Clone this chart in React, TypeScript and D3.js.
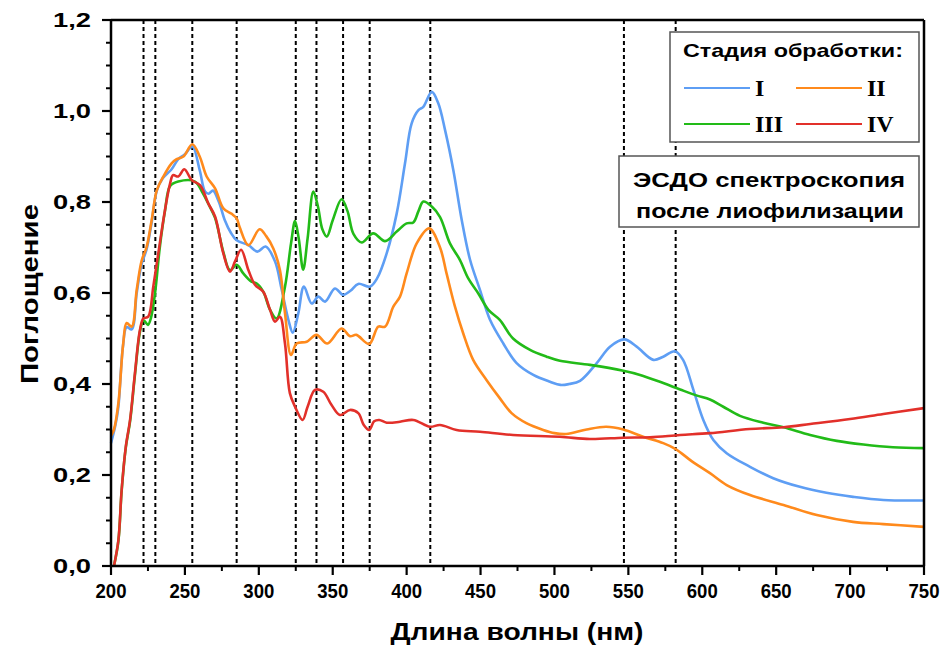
import React from "react";
import * as d3 from "d3";

const seriesNames = ["I", "II", "III", "IV"];
const seriesColors = ["#5E9EF4", "#FF8A1C", "#22BB18", "#E2302A"];

const wlI = [200,203,205,208,210.6,214,217.4,220.8,224,227.5,231,235,241,245.5,250,255,260,263.6,266,269,273,277,281,285,293,299,304.6,311,315.5,320,323,326.7,330.5,335.8,340.3,344.8,351.5,357,362,367.3,375.2,380,386.5,393.3,398.9,403.4,408,411.3,417,421.4,426,431.6,437.3,442.9,449.6,456.4,465.4,474.4,485.7,497,504,510,517.3,528.6,537.6,547.3,555.6,566.9,573.6,581.5,587,594,600.7,607.5,616.5,632.3,648,666,684,702,722.5,750];
const absI = [0.27,0.31,0.35,0.48,0.525,0.52,0.6,0.665,0.695,0.755,0.825,0.852,0.872,0.894,0.905,0.922,0.87,0.823,0.818,0.825,0.8,0.76,0.733,0.716,0.705,0.691,0.702,0.669,0.607,0.541,0.513,0.555,0.614,0.577,0.592,0.581,0.61,0.596,0.605,0.62,0.614,0.632,0.687,0.775,0.885,0.973,1.002,1.009,1.042,1.017,0.958,0.87,0.76,0.673,0.607,0.541,0.489,0.446,0.42,0.405,0.398,0.4,0.407,0.446,0.482,0.498,0.482,0.453,0.46,0.472,0.453,0.387,0.321,0.277,0.248,0.218,0.193,0.174,0.161,0.152,0.145,0.144];

const wlII = [200,202,205,208.3,210.6,214,217.4,220.8,224,227.5,231,235.4,241,244.4,249,255,260,264.7,270.4,276,281.6,285,287,293,300.5,305,309.8,314.3,317.7,321.8,325.6,332.4,339,346.3,356,361.7,366,374.7,380.8,385.4,391,395.5,400,406.8,415.3,422.6,427,432.7,438.3,445,454,463,471,481,492.4,500,508,521.8,535,546.6,560,573.6,582,593,605.2,616.5,632.3,655,677.5,702,722.5,750];
const absII = [0.286,0.3,0.358,0.49,0.534,0.526,0.607,0.672,0.7,0.76,0.826,0.856,0.885,0.894,0.9,0.927,0.9,0.856,0.83,0.786,0.774,0.764,0.745,0.705,0.74,0.725,0.698,0.65,0.556,0.464,0.489,0.493,0.508,0.489,0.522,0.505,0.508,0.488,0.526,0.526,0.57,0.592,0.643,0.709,0.742,0.7,0.643,0.57,0.511,0.453,0.409,0.369,0.336,0.314,0.299,0.292,0.29,0.3,0.306,0.3,0.284,0.27,0.257,0.23,0.204,0.178,0.156,0.134,0.112,0.097,0.092,0.086];

const wlIII = [202,205,207.2,210,212.9,216.2,219.6,222,225,227,229.8,233,236.5,240,245.5,256.8,262,266,270.4,276,280.5,285,289.5,295,298.6,303,307.6,312,317.7,321.8,324.5,327,330,333,336.9,340,343,346,350,356,360,364,369.6,377.4,385.4,393.3,400,404.5,408,411.3,417,422.6,429.3,436,441.7,448.5,455.3,463,472,483.5,494.7,503.7,524,546.6,557.9,573.6,585,596,605.2,614.2,625.5,641.3,655,673,691,709,729,750];
const absIII = [0,0.055,0.165,0.26,0.318,0.42,0.515,0.54,0.53,0.545,0.6,0.7,0.78,0.835,0.845,0.845,0.82,0.795,0.765,0.69,0.65,0.662,0.643,0.625,0.621,0.603,0.563,0.544,0.614,0.709,0.758,0.72,0.651,0.72,0.823,0.79,0.74,0.724,0.76,0.806,0.78,0.73,0.711,0.731,0.714,0.735,0.753,0.755,0.78,0.801,0.79,0.767,0.709,0.673,0.632,0.599,0.563,0.541,0.5,0.475,0.46,0.451,0.442,0.429,0.42,0.402,0.388,0.375,0.366,0.35,0.33,0.315,0.305,0.288,0.275,0.267,0.261,0.259];

const wlIV = [202,205,207.2,210,212.9,216.2,219.6,221.9,225.2,228.6,232,236.5,240,242,245.5,249.6,254.6,260.2,265.8,270.4,276,280.5,284,288,293,297.4,303,307.6,311,314.3,317.7,321,324.5,329.6,333,338,343.6,349,354.9,361.7,367.3,371,374.7,378,381.5,386.5,395.5,404.5,415.8,422.6,433.8,449.6,472,503.7,524,546.6,564.6,585,605,632,655,673,700,722.5,750];
const absIV = [0,0.057,0.167,0.262,0.321,0.424,0.519,0.544,0.548,0.614,0.687,0.782,0.841,0.859,0.856,0.872,0.848,0.837,0.797,0.768,0.687,0.647,0.67,0.695,0.65,0.618,0.603,0.563,0.537,0.548,0.489,0.38,0.35,0.321,0.35,0.387,0.383,0.355,0.332,0.343,0.336,0.31,0.299,0.318,0.321,0.315,0.317,0.321,0.306,0.31,0.299,0.295,0.288,0.284,0.279,0.282,0.283,0.288,0.292,0.301,0.305,0.312,0.323,0.334,0.347];

const markerWavelengths = [222, 230, 255, 285, 325, 339, 357, 375, 416, 547, 582];
const xTicks = [200,250,300,350,400,450,500,550,600,650,700,750];
const xMinorTicks = [225,275,325,375,425,475,525,575,625,675,725];
const yTicks = [0,0.2,0.4,0.6,0.8,1.0,1.2];
const yMinorTicks = [0.05,0.1,0.15,0.25,0.3,0.35,0.45,0.5,0.55,0.65,0.7,0.75,0.85,0.9,0.95,1.05,1.1,1.15];

const allWl = [wlI, wlII, wlIII, wlIV];
const allAbs = [absI, absII, absIII, absIV];

export default function App() {
  const W = 947, H = 648;
  const x = d3.scaleLinear().domain([200, 750]).range([111, 924]);
  const y = d3.scaleLinear().domain([0, 1.2]).range([566, 20]);
  const line = d3.line<[number, number]>()
    .x(d => x(d[0]))
    .y(d => y(d[1]))
    .curve(d3.curveCatmullRom.alpha(0.5));
  const fmt = (v: number) => v.toFixed(1).replace(".", ",");
  const drawOrder = [0, 2, 1, 3];
  const sans = "'Liberation Sans', Arial, sans-serif";
  const serif = "'Liberation Serif', 'Times New Roman', serif";
  return (
    <svg width={W} height={H} style={{ position: "absolute", left: 0, top: 0, background: "#fff" }}>
      <rect x={0} y={0} width={W} height={H} fill="#fff" />
      {markerWavelengths.map((m, i) => (
        <line key={"m" + i} x1={x(m)} x2={x(m)} y1={y(1.2)} y2={y(0)} stroke="#000" strokeWidth={2} strokeDasharray="4,3" />
      ))}
      {drawOrder.map(si => {
        const pts = allWl[si].map((w, j) => [w, allAbs[si][j]] as [number, number]);
        return <path key={"s" + si} d={line(pts) || ""} fill="none" stroke={seriesColors[si]} strokeWidth={2.6} strokeLinejoin="round" />;
      })}
      {/* frame */}
      <line x1={x(200)} x2={x(750)} y1={y(1.2)} y2={y(1.2)} stroke="#000" strokeWidth={2.5} />
      <line x1={x(750)} x2={x(750)} y1={y(1.2)} y2={y(0)} stroke="#000" strokeWidth={2.5} />
      <line x1={x(200)} x2={x(750)} y1={y(0)} y2={y(0)} stroke="#000" strokeWidth={2.5} />
      <line x1={x(200)} x2={x(200)} y1={y(1.2)} y2={y(0)} stroke="#000" strokeWidth={2.5} />
      {xTicks.map(t => (
        <g key={"xt" + t}>
          <line x1={x(t)} x2={x(t)} y1={y(0)} y2={y(0) + 9} stroke="#000" strokeWidth={2.2} />
          <text x={x(t)} y={598} textAnchor="middle" fontFamily={sans} fontWeight="bold" fontSize={20} textLength={31} lengthAdjust="spacingAndGlyphs">{t}</text>
        </g>
      ))}
      {xMinorTicks.map(t => (
        <line key={"xm" + t} x1={x(t)} x2={x(t)} y1={y(0)} y2={y(0) + 5} stroke="#000" strokeWidth={2} />
      ))}
      {yTicks.map(t => (
        <g key={"yt" + t}>
          <line x1={x(200) - 9} x2={x(200)} y1={y(t)} y2={y(t)} stroke="#000" strokeWidth={2.2} />
          <text x={91} y={y(t) + 7} textAnchor="end" fontFamily={sans} fontWeight="bold" fontSize={20} textLength={38} lengthAdjust="spacingAndGlyphs">{fmt(t)}</text>
        </g>
      ))}
      {yMinorTicks.map(t => (
        <line key={"ym" + t} x1={x(200) - 5} x2={x(200)} y1={y(t)} y2={y(t)} stroke="#000" strokeWidth={2} />
      ))}
      <text x={517} y={640} textAnchor="middle" fontFamily={sans} fontWeight="bold" fontSize={23} textLength={253} lengthAdjust="spacingAndGlyphs">Длина волны (нм)</text>
      <text transform="translate(38,294) rotate(-90)" textAnchor="middle" fontFamily={sans} fontWeight="bold" fontSize={23} textLength={180} lengthAdjust="spacingAndGlyphs">Поглощение</text>
      {/* legend */}
      <rect x={670} y={32} width={249} height={110} fill="#fff" stroke="#555" strokeWidth={1.5} />
      <text x={793} y={57} textAnchor="middle" fontFamily={sans} fontWeight="bold" fontSize={19} textLength={220} lengthAdjust="spacingAndGlyphs">Стадия обработки:</text>
      {[0, 1, 2, 3].map(i => {
        const col = i % 2, row = Math.floor(i / 2);
        const lx = col === 0 ? 684 : 796;
        const ly = row === 0 ? 88 : 124;
        return (
          <g key={"lg" + i}>
            <line x1={lx} x2={lx + 66} y1={ly} y2={ly} stroke={seriesColors[i]} strokeWidth={2.2} />
            <text x={lx + 71} y={ly + 8} fontFamily={serif} fontWeight="bold" fontSize={24}>{seriesNames[i]}</text>
          </g>
        );
      })}
      <rect x={619} y={156} width={300} height={71} fill="#fff" stroke="#555" strokeWidth={1.5} />
      <text x={769} y={187} textAnchor="middle" fontFamily={sans} fontWeight="bold" fontSize={20} textLength={272} lengthAdjust="spacingAndGlyphs">ЭСДО спектроскопия</text>
      <text x={770} y={218} textAnchor="middle" fontFamily={sans} fontWeight="bold" fontSize={20} textLength={268} lengthAdjust="spacingAndGlyphs">после лиофилизации</text>
    </svg>
  );
}
